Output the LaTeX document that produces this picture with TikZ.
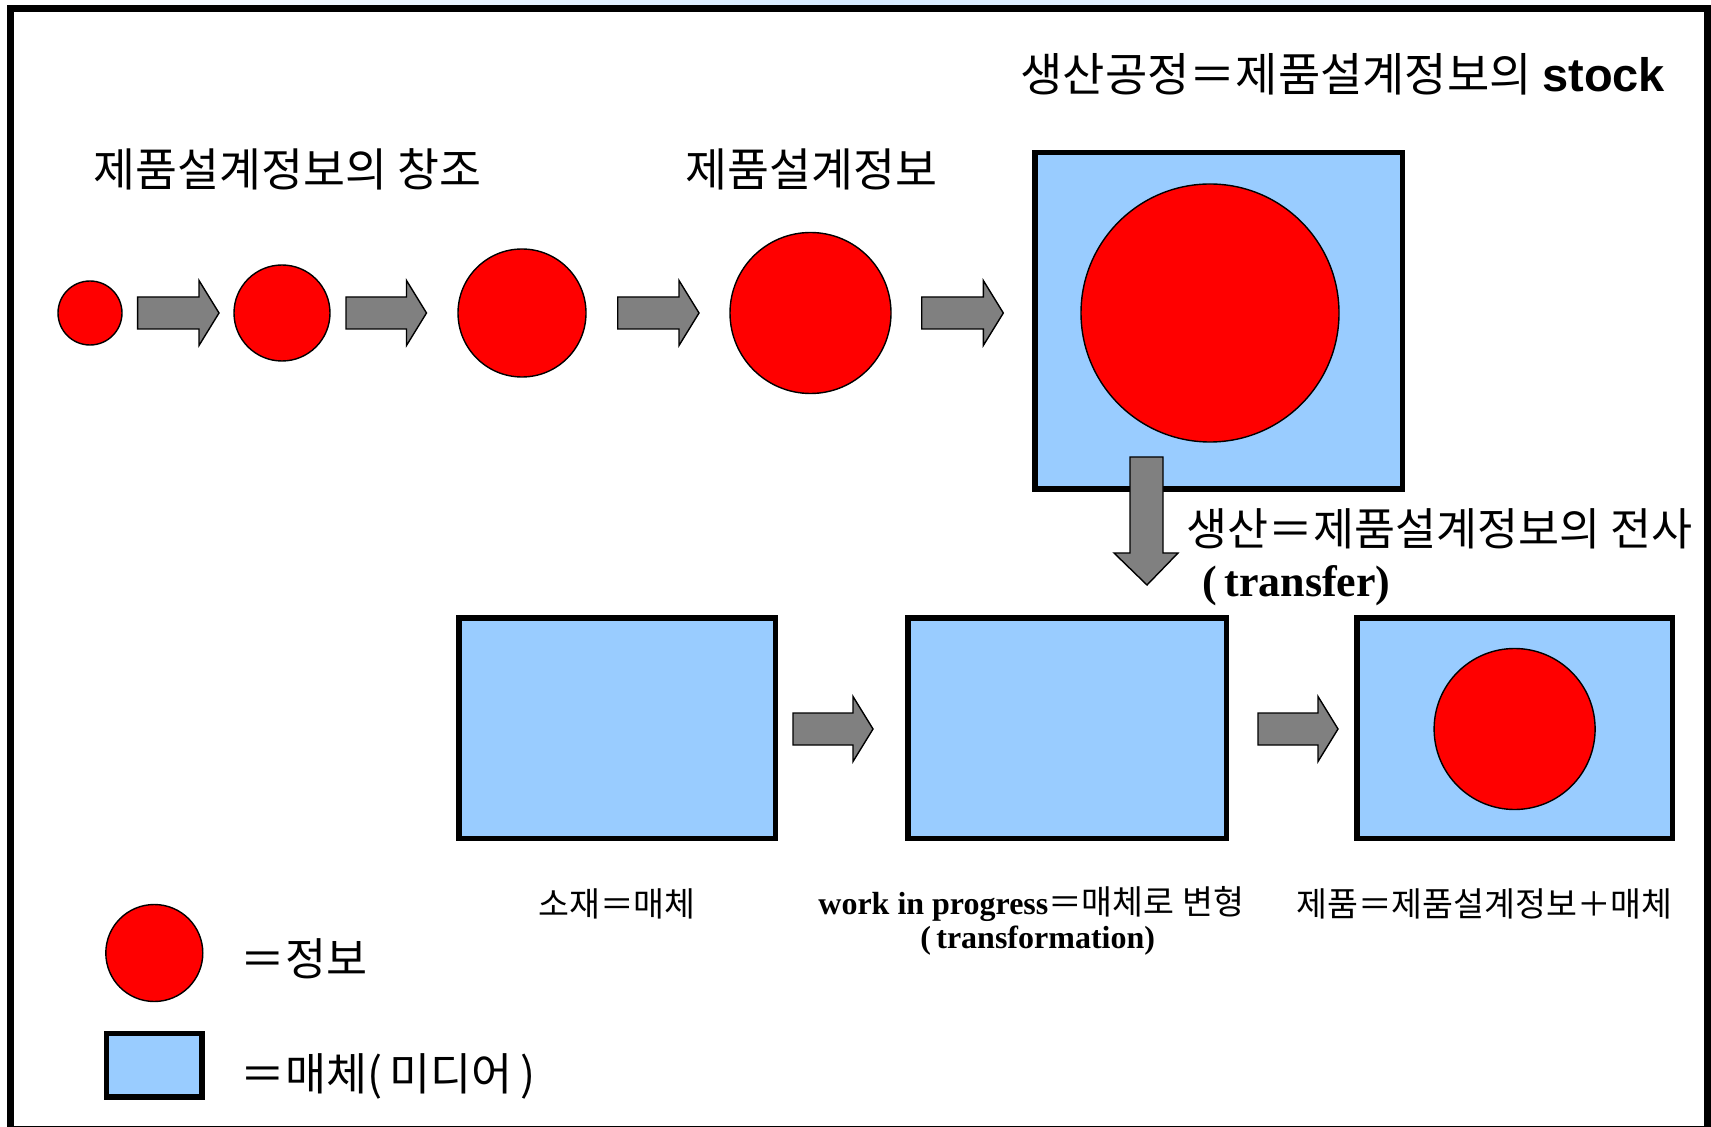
\documentclass[tikz,border=0pt]{standalone}
\usepackage{fontspec}
\setmainfont{Liberation Serif}
\newfontfamily\kr{Noto Sans CJK KR}
\newfontfamily\arialf{Liberation Sans}
\newfontfamily\tmsf{Liberation Serif}
\definecolor{mediablue}{HTML}{99CCFF}
\definecolor{arrowgray}{HTML}{808080}
\newcommand\harr[3]{%
  \draw[fat] (#1,#3-16) -- (#2-20,#3-16) -- (#2-20,#3-32.5) -- (#2,#3)
    -- (#2-20,#3+32.5) -- (#2-20,#3+16) -- (#1,#3+16) -- cycle;}
\begin{document}
\begin{tikzpicture}[x=0.5pt,y=-0.5pt,
  info/.style={circle, fill=red, draw=black, line width=0.7pt, inner sep=0pt, outer sep=0pt},
  mediabox/.style={rectangle, fill=mediablue, draw=black, line width=2.75pt, inner sep=0pt, outer sep=0pt},
  fat/.style={fill=arrowgray, draw=black, line width=0.7pt, line join=miter},
  bigtxt/.style={font={\kr\fontsize{22.8pt}{27pt}\selectfont}, inner sep=0pt, anchor=west},
  midtxt/.style={font={\kr\fontsize{22.3pt}{27pt}\selectfont}, inner sep=0pt, anchor=west},
  smalltxt/.style={font={\kr\fontsize{16.8pt}{20pt}\selectfont}, inner sep=0pt, anchor=west}]
\useasboundingbox (0,0) rectangle (1711,1127);
\clip (0,0) rectangle (1711,1127);
\fill[white] (0,0) rectangle (1711,1127);
\shade[left color=white, right color=white, middle color=mediablue!40] (0,0) rectangle (1711,6);
\draw[line width=3.5pt] (10.5,8.5) rectangle (1707,1129);

% title and top labels
\node[inner sep=0pt, anchor=west, font={\kr\fontsize{23pt}{27pt}\selectfont}] (title) at (1020,74)
  {생산공정＝제품설계정보의 {\arialf\bfseries\fontsize{23.5pt}{27pt}\selectfont stock}};
\node[bigtxt] (create) at (93,169) {제품설계정보의 창조};
\node[bigtxt] (design) at (685,169) {제품설계정보};

% growing circles
\node[info, minimum size=32pt] (c1) at (90,313) {};
\node[info, minimum size=48pt] (c2) at (282,313) {};
\node[info, minimum size=64pt] (c3) at (522,313) {};
\node[info, minimum size=80.5pt] (c4) at (810.5,313) {};
\harr{137.6}{219}{313}
\harr{346}{426.5}{313}
\harr{617.7}{699}{313}
\harr{921.7}{1003.3}{313}

% stock box
\node[mediabox, minimum width=183.75pt, minimum height=168.25pt] (stock) at (1218.5,321) {};
\node[info, minimum size=129pt] (bigc) at (1210,313) {};

% transfer arrow
\draw[fat] (1130,457) -- (1163,457) -- (1163,553) -- (1178,553) -- (1147,585)
  -- (1114,553) -- (1130,553) -- cycle;
\node[midtxt] (transfer) at (1186,529) {생산＝제품설계정보의 전사};
\node[inner sep=0pt, anchor=west, font={\tmsf\bfseries\fontsize{22pt}{26pt}\selectfont}] (transferen) at (1202,586)
  {(\,transfer)};

% bottom row
\node[mediabox, minimum width=158.25pt, minimum height=110.25pt] (b1) at (617,728) {};
\node[mediabox, minimum width=159.25pt, minimum height=110.25pt] (b2) at (1067,728) {};
\node[mediabox, minimum width=157.75pt, minimum height=110.25pt] (b3) at (1514.5,728) {};
\node[info, minimum size=80.5pt] (c5) at (1514.6,729) {};
\harr{793}{873}{729}
\harr{1258}{1338}{729}

\node[smalltxt, anchor=center] (l1) at (617,903.5) {소재＝매체};
\node[smalltxt] (l2) at (818,903.5) {{\tmsf\bfseries\fontsize{16pt}{20pt}\selectfont work in progress}＝매체로 변형};
\node[inner sep=0pt, anchor=west, font={\tmsf\bfseries\fontsize{16pt}{20pt}\selectfont}] (l2b) at (920,941) {(\,transformation)};
\node[smalltxt] (l3) at (1296,903.5) {제품＝제품설계정보＋매체};

% legend
\node[info, minimum size=48.5pt] (lc) at (154.3,953) {};
\node[mediabox, minimum width=47.85pt, minimum height=31.65pt] (lb) at (154.15,1065.35) {};
\node[midtxt] (lct) at (240,959) {＝정보};
\node[midtxt] (lbt) at (240,1076) {＝매체(\,미디어\,)};
\end{tikzpicture}
\end{document}
